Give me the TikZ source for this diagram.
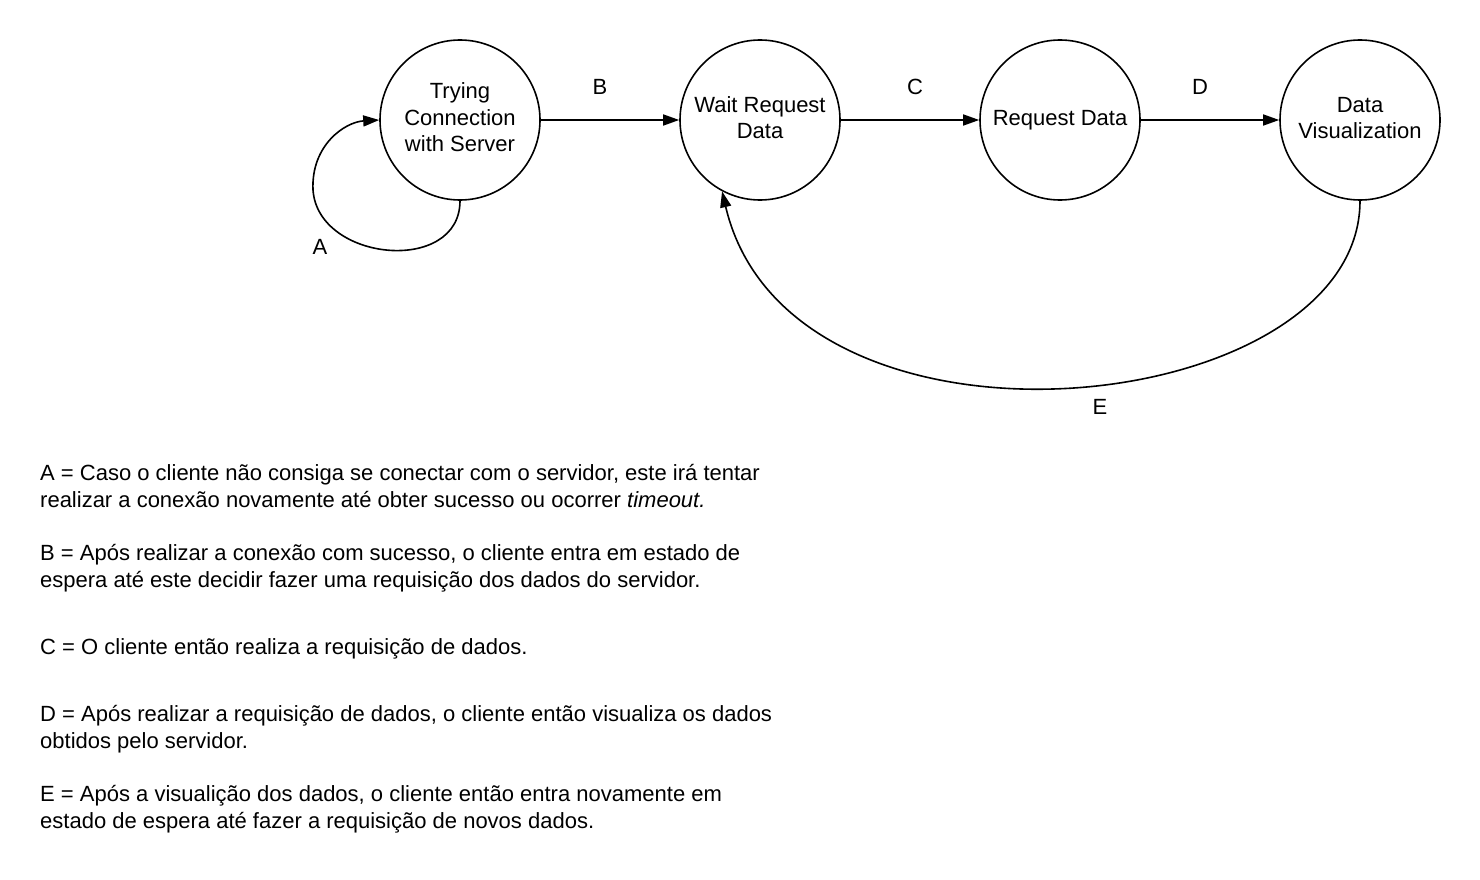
\documentclass[tikz,border=0pt]{standalone}
\usepackage{fontspec}
\setmainfont{Liberation Sans}
\usetikzlibrary{arrows.meta}
\newcommand{\stxt}[1]{\raisebox{3pt}{\begin{tabular}{@{}c@{}}#1\end{tabular}}}
\begin{document}
\begin{tikzpicture}[x=1pt,y=-1pt,
  state/.style={draw,circle,line width=1.6pt,minimum size=160pt,inner sep=0pt,font=\fontsize{22}{26.5}\selectfont},
  conn/.style={line width=1.6pt,-{Triangle[length=16pt,width=11pt]}},
  lbl/.style={font=\fontsize{22}{24}\selectfont,inner sep=0pt},
  desc/.style={font=\fontsize{22}{27}\selectfont,anchor=base west,inner sep=0pt}]
\useasboundingbox (0,0) rectangle (1480,880);
\fill[white] (0,0) rectangle (1480,880);
\node[state] (t) at (460,120) {\stxt{Trying\\Connection\\with Server}};
\node[state] (w) at (760,120) {\stxt{Wait Request\\Data}};
\node[state] (r) at (1060,120) {\stxt{Request Data}};
\node[state] (v) at (1360,120) {\stxt{Data\\Visualization}};
\draw[conn] (t.east) -- (w.west);
\draw[conn] (w.east) -- (r.west);
\draw[conn] (r.east) -- (v.west);
\draw[conn] (t.south) .. controls (460,275) and (318,262) .. (313,190) .. controls (311,145) and (345,122) .. (t.west);
\draw[conn] (v.south) .. controls (1360,420) and (790,480) .. (w.242);
\node[lbl] (la) at (320,247) {A};
\node[lbl] (lb) at (600,87) {B};
\node[lbl] (lc) at (915,87) {C};
\node[lbl] (ld) at (1200,87) {D};
\node[lbl] (le) at (1100,407) {E};
\node[desc] (a1) at (40,480) {A = Caso o cliente não consiga se conectar com o servidor, este irá tentar};
\node[desc] (a2) at (40,507) {realizar a conexão novamente até obter sucesso ou ocorrer \textit{timeout.}};
\node[desc] (b1) at (40,560) {B = Após realizar a conexão com sucesso, o cliente entra em estado de};
\node[desc] (b2) at (40,587) {espera até este decidir fazer uma requisição dos dados do servidor.};
\node[desc] (c1) at (40,654) {C = O cliente então realiza a requisição de dados.};
\node[desc] (d1) at (40,721) {D = Após realizar a requisição de dados, o cliente então visualiza os dados};
\node[desc] (d2) at (40,748) {obtidos pelo servidor.};
\node[desc] (e1) at (40,801) {E = Após a visualição dos dados, o cliente então entra novamente em};
\node[desc] (e2) at (40,828) {estado de espera até fazer a requisição de novos dados.};
\end{tikzpicture}
\end{document}
